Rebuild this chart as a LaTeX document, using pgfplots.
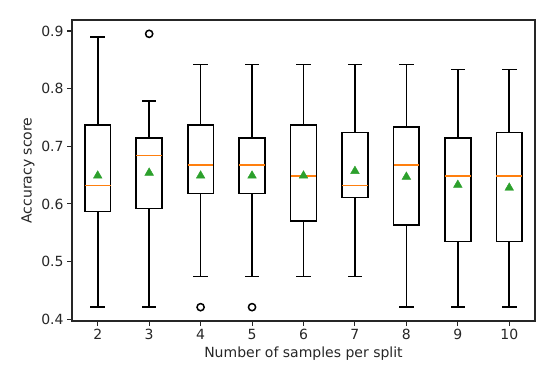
\documentclass[border=0pt]{standalone}
\usepackage{fontspec}
\setmainfont{DejaVu Sans}
\usepackage{pgfplots}
\pgfplotsset{compat=1.18}
\definecolor{mplorange}{RGB}{255,127,14}
\definecolor{mplgreen}{RGB}{44,160,44}
\begin{document}
\begin{tikzpicture}
\begin{axis}[
  at={(0pt,0pt)}, anchor=south west,
  scale only axis, width=463pt, height=301pt,
  xmin=1.5, xmax=10.5, ymin=0.397, ymax=0.919,
  xtick={2,3,4,5,6,7,8,9,10},
  ytick={0.4,0.5,0.6,0.7,0.8,0.9},
  yticklabel style={/pgf/number format/.cd, fixed, fixed zerofill, precision=1},
  /pgf/number format/assume math mode=true,
  tick align=outside, major tick length=4.9pt,
  xtick pos=bottom, ytick pos=left,
  tick style={black!85, line width=1.1pt},
  axis line style={line width=1.1pt, black!85},
  tick label style={font=\fontsize{14}{16}\selectfont, text=black!85},
  label style={font=\fontsize{14}{16}\selectfont, text=black!85},
  xlabel={Number of samples per split},
  ylabel={Accuracy score},
  unbounded coords=jump,
  clip=false,
  boxline/.style={draw=black, line width=1.7pt, mark=none, line join=miter, line cap=rect},
]
% boxes, whiskers and caps: box half-width 0.25, cap half-width 0.125
\addplot[boxline] coordinates {(1.75,0.587) (2.25,0.587) (2.25,0.737) (1.75,0.737) (1.75,0.587) (2,nan) (2,0.737) (2,0.889) (2,nan) (1.875,0.889) (2.125,0.889) (2,nan) (2,0.587) (2,0.421) (2,nan) (1.875,0.421) (2.125,0.421)};
\addplot[boxline] coordinates {(2.75,0.592) (3.25,0.592) (3.25,0.714) (2.75,0.714) (2.75,0.592) (3,nan) (3,0.714) (3,0.778) (3,nan) (2.875,0.778) (3.125,0.778) (3,nan) (3,0.592) (3,0.421) (3,nan) (2.875,0.421) (3.125,0.421)};
\addplot[boxline] coordinates {(3.75,0.618) (4.25,0.618) (4.25,0.737) (3.75,0.737) (3.75,0.618) (4,nan) (4,0.737) (4,0.842) (4,nan) (3.875,0.842) (4.125,0.842) (4,nan) (4,0.618) (4,0.474) (4,nan) (3.875,0.474) (4.125,0.474)};
\addplot[boxline] coordinates {(4.75,0.618) (5.25,0.618) (5.25,0.714) (4.75,0.714) (4.75,0.618) (5,nan) (5,0.714) (5,0.842) (5,nan) (4.875,0.842) (5.125,0.842) (5,nan) (5,0.618) (5,0.474) (5,nan) (4.875,0.474) (5.125,0.474)};
\addplot[boxline] coordinates {(5.75,0.570) (6.25,0.570) (6.25,0.737) (5.75,0.737) (5.75,0.570) (6,nan) (6,0.737) (6,0.842) (6,nan) (5.875,0.842) (6.125,0.842) (6,nan) (6,0.570) (6,0.474) (6,nan) (5.875,0.474) (6.125,0.474)};
\addplot[boxline] coordinates {(6.75,0.611) (7.25,0.611) (7.25,0.724) (6.75,0.724) (6.75,0.611) (7,nan) (7,0.724) (7,0.842) (7,nan) (6.875,0.842) (7.125,0.842) (7,nan) (7,0.611) (7,0.474) (7,nan) (6.875,0.474) (7.125,0.474)};
\addplot[boxline] coordinates {(7.75,0.563) (8.25,0.563) (8.25,0.733) (7.75,0.733) (7.75,0.563) (8,nan) (8,0.733) (8,0.842) (8,nan) (7.875,0.842) (8.125,0.842) (8,nan) (8,0.563) (8,0.421) (8,nan) (7.875,0.421) (8.125,0.421)};
\addplot[boxline] coordinates {(8.75,0.535) (9.25,0.535) (9.25,0.714) (8.75,0.714) (8.75,0.535) (9,nan) (9,0.714) (9,0.833) (9,nan) (8.875,0.833) (9.125,0.833) (9,nan) (9,0.535) (9,0.421) (9,nan) (8.875,0.421) (9.125,0.421)};
\addplot[boxline] coordinates {(9.75,0.535) (10.25,0.535) (10.25,0.724) (9.75,0.724) (9.75,0.535) (10,nan) (10,0.724) (10,0.833) (10,nan) (9.875,0.833) (10.125,0.833) (10,nan) (10,0.535) (10,0.421) (10,nan) (9.875,0.421) (10.125,0.421)};
% medians
\addplot[draw=mplorange, line width=1.8pt, mark=none] coordinates {
(1.75,0.632) (2.25,0.632) (2,nan)
(2.75,0.684) (3.25,0.684) (3,nan)
(3.75,0.667) (4.25,0.667) (4,nan)
(4.75,0.667) (5.25,0.667) (5,nan)
(5.75,0.649) (6.25,0.649) (6,nan)
(6.75,0.632) (7.25,0.632) (7,nan)
(7.75,0.667) (8.25,0.667) (8,nan)
(8.75,0.649) (9.25,0.649) (9,nan)
(9.75,0.649) (10.25,0.649)};
% outliers
\addplot[only marks, mark=o, mark size=3.6pt, line width=1.5pt, black] coordinates {(3,0.895) (4,0.421) (5,0.421)};
% means
\addplot[only marks, mark=triangle*, mark size=5pt, draw=mplgreen, fill=mplgreen] coordinates {
(2,0.649) (3,0.654) (4,0.649) (5,0.649) (6,0.649) (7,0.657) (8,0.647) (9,0.633) (10,0.628)};
\end{axis}
\pgfresetboundingbox
\path (-72pt,-52pt) rectangle (478pt,321pt);
\end{tikzpicture}
\end{document}
